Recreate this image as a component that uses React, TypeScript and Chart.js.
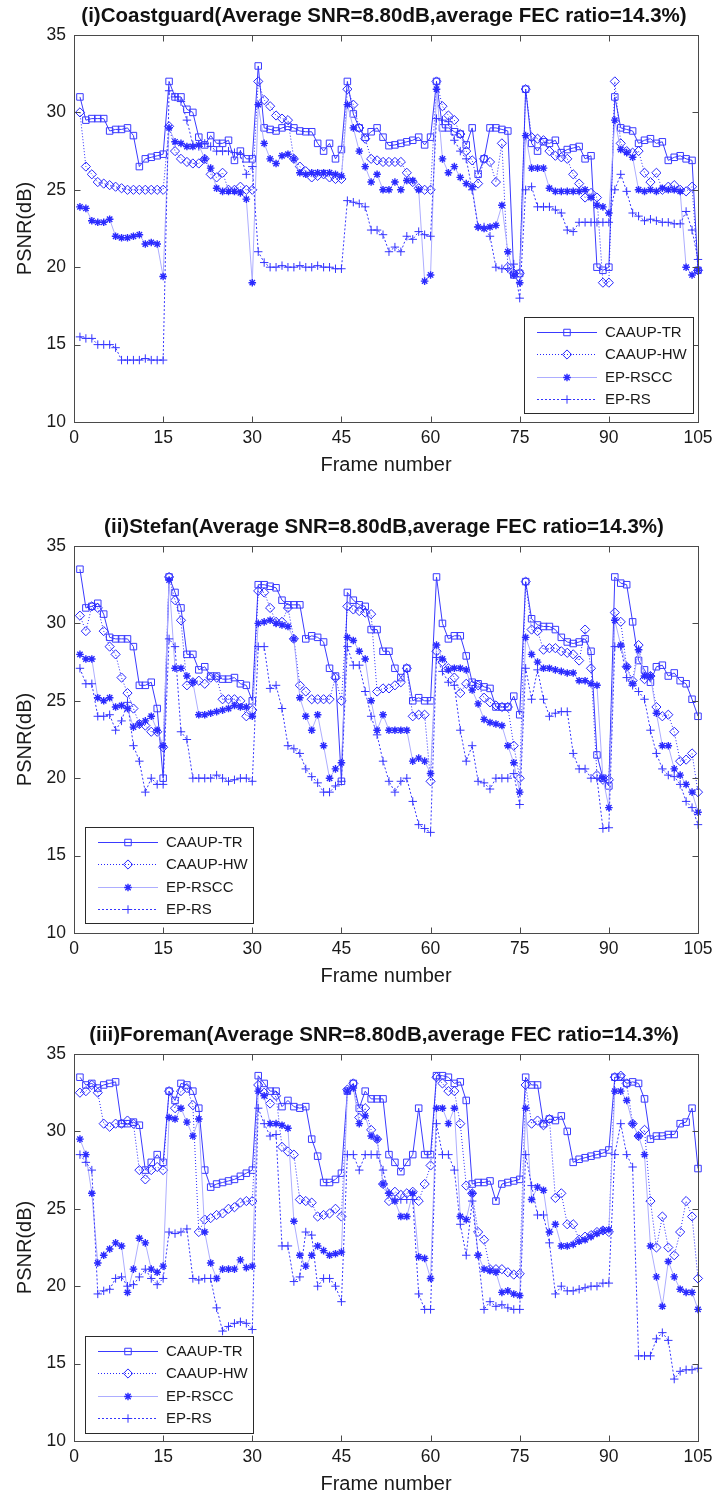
import React, { useEffect, useRef } from 'react';
import { Chart, registerables } from 'chart.js';

Chart.register(...registerables);

const FONT = '"Liberation Sans", Arial, Helvetica, sans-serif';
Chart.defaults.font.family = FONT;

// ---------- data ----------
const FRAMES = Array.from({ length: 105 }, (_, i) => i + 1);
const X_TICKS = [0, 15, 30, 45, 60, 75, 90, 105];
const Y_TICKS = [10, 15, 20, 25, 30, 35];
const SERIES_NAMES = ['CAAUP-TR', 'CAAUP-HW', 'EP-RSCC', 'EP-RS'];
const TITLES = [
  '(i)Coastguard(Average SNR=8.80dB,average FEC ratio=14.3%)',
  '(ii)Stefan(Average SNR=8.80dB,average FEC ratio=14.3%)',
  '(iii)Foreman(Average SNR=8.80dB,average FEC ratio=14.3%)',
];
const X_LABEL = 'Frame number';
const Y_LABEL = 'PSNR(dB)';

// (i) Coastguard
const COAST_TR = [
  31.0, 29.5, 29.6, 29.6, 29.6, 28.8, 28.9, 28.9, 29.0, 28.5, 26.5, 27.0, 27.1, 27.2, 27.3,
  32.0, 31.0, 31.0, 30.2, 30.0, 28.4, 27.9, 28.5, 28.0, 28.0, 28.2, 26.9, 27.5, 27.0, 27.0,
  33.0, 29.0, 28.9, 28.8, 29.0, 29.1, 29.0, 28.8, 28.75, 28.75, 28.0, 27.5, 28.0, 27.0, 27.6,
  32.0, 29.9, 29.0, 28.4, 28.75, 29.0, 28.4, 27.85, 27.9, 28.0, 28.1, 28.2, 28.4, 27.9, 28.4,
  32.0, 29.0, 29.0, 28.75, 28.6, 27.9, 29.0, 26.0, 27.0, 29.0, 29.0, 28.9, 28.8, 19.5, 19.6,
  31.5, 28.0, 27.5, 28.1, 28.0, 28.2, 27.4, 27.6, 27.7, 27.8, 27.0, 27.2, 20.0, 19.8, 20.0,
  31.0, 29.0, 28.9, 28.8, 28.0, 28.2, 28.3, 28.0, 28.1, 26.9, 27.1, 27.2, 27.0, 26.9, 19.8,
];
const COAST_HW = [
  30.0, 26.5, 26.0, 25.5, 25.4, 25.3, 25.2, 25.1, 25.0, 25.0, 25.0, 25.0, 25.0, 25.0, 25.0,
  29.1, 27.5, 27.0, 26.8, 26.7, 26.7, 27.0, 26.0, 25.8, 26.1, 25.0, 25.0, 25.2, 25.0, 25.0,
  32.0, 30.8, 30.4, 29.8, 29.6, 29.5, 27.0, 26.5, 26.2, 25.8, 25.9, 26.0, 25.8, 25.7, 25.7,
  31.5, 30.5, 29.0, 28.3, 27.0, 26.9, 26.8, 26.8, 26.8, 26.8, 26.1, 25.5, 25.1, 25.0, 25.0,
  32.0, 30.4, 29.8, 29.5, 28.6, 27.5, 26.9, 25.4, 27.0, 26.8, 25.5, 28.0, 20.0, 19.6, 19.6,
  31.5, 28.4, 28.3, 28.2, 27.5, 27.2, 27.1, 27.0, 26.0, 25.4, 24.5, 24.8, 24.5, 19.0, 19.0,
  32.0, 28.0, 27.5, 27.4, 27.5, 26.1, 25.5, 26.1, 25.0, 25.2, 25.3, 25.0, 24.9, 25.2, 19.8,
];
const COAST_RSCC = [
  23.9, 23.8, 23.0, 22.9, 22.9, 23.1, 22.0, 21.9, 21.9, 22.0, 22.1, 21.5, 21.6, 21.5, 19.4,
  29.0, 28.1, 28.0, 27.8, 27.8, 27.9, 27.0, 26.4, 25.1, 24.9, 24.9, 24.9, 24.8, 24.4, 19.0,
  30.5, 28.0, 27.0, 26.7, 27.2, 27.3, 27.0, 26.1, 26.0, 26.1, 26.1, 26.1, 26.1, 26.0, 25.9,
  30.5, 29.0, 27.5, 26.5, 25.5, 26.0, 25.0, 25.0, 25.5, 25.0, 25.6, 25.6, 25.0, 19.1, 19.5,
  31.5, 27.0, 26.1, 26.5, 25.8, 25.4, 25.2, 22.6, 22.5, 22.6, 22.7, 24.0, 21.0, 19.5, 19.0,
  28.5, 26.4, 26.4, 26.4, 25.1, 24.9, 24.9, 24.9, 24.9, 24.9, 25.0, 24.5, 24.0, 23.9, 23.5,
  29.5, 27.6, 27.4, 27.1, 25.0, 24.9, 25.0, 24.9, 25.1, 25.0, 25.0, 24.9, 20.0, 19.5, 19.8,
];
const COAST_RS = [
  15.5, 15.4, 15.4, 15.0, 15.0, 15.0, 14.8, 14.0, 14.0, 14.0, 14.0, 14.1, 14.0, 14.0, 14.0,
  31.4, 31.0, 30.7, 29.5, 27.9, 27.8, 28.0, 27.8, 27.5, 27.5, 27.5, 27.4, 27.3, 26.0, 26.5,
  21.0, 20.3, 20.0, 20.0, 20.1, 20.0, 20.0, 20.1, 20.0, 20.0, 20.1, 20.0, 20.0, 19.9, 19.9,
  24.3, 24.2, 24.1, 23.9, 22.4, 22.4, 22.1, 21.0, 21.3, 21.0, 22.0, 21.8, 22.3, 22.1, 22.0,
  29.6, 29.5, 29.4, 28.2, 27.5, 27.0, 25.0, 22.6, 22.6, 22.0, 20.0, 19.9, 19.9, 20.2, 18.0,
  25.0, 25.2, 23.9, 23.9, 23.9, 23.7, 23.5, 22.4, 22.3, 22.9, 22.9, 22.9, 22.9, 22.9, 22.9,
  25.0, 26.0, 24.9, 23.5, 23.3, 23.0, 23.1, 23.0, 22.9, 22.9, 22.8, 22.8, 23.6, 22.4, 20.5,
];

// (ii) Stefan
const STEFAN_TR = [
  33.5, 31.0, 31.1, 31.3, 30.6, 29.1, 29.0, 29.0, 29.0, 28.5, 26.0, 26.0, 26.2, 24.5, 20.0,
  33.0, 32.0, 31.0, 28.0, 28.0, 27.0, 27.2, 26.6, 26.6, 26.4, 26.4, 26.5, 26.1, 26.0, 25.0,
  32.5, 32.5, 32.4, 32.3, 31.5, 31.2, 31.2, 31.2, 29.0, 29.2, 29.1, 28.8, 27.1, 26.6, 19.8,
  32.0, 31.5, 31.2, 31.1, 29.6, 29.6, 28.2, 28.2, 27.1, 26.5, 27.1, 25.0, 25.2, 25.0, 25.0,
  33.0, 30.0, 29.0, 29.2, 29.2, 27.9, 26.2, 26.1, 25.9, 25.8, 24.6, 24.6, 24.6, 25.3, 24.1,
  32.7, 30.3, 29.9, 29.8, 29.8, 29.6, 29.1, 28.8, 28.7, 28.8, 29.0, 28.2, 21.5, 20.0, 19.5,
  33.0, 32.6, 32.5, 30.1, 27.6, 27.0, 26.2, 27.2, 27.3, 26.6, 26.8, 26.3, 26.1, 25.1, 24.0,
];
const STEFAN_HW = [
  30.5, 29.5, 31.1, 31.0, 29.5, 28.5, 28.0, 26.5, 25.5, 24.5, 23.5, 23.4, 23.0, 23.0, 22.0,
  33.0, 31.5, 30.2, 26.0, 26.2, 26.3, 26.1, 26.5, 26.5, 25.1, 25.1, 25.1, 25.0, 24.0, 24.4,
  32.1, 32.0, 31.0, 30.1, 30.1, 31.0, 29.0, 26.0, 25.6, 25.1, 25.1, 25.1, 25.1, 26.5, 25.0,
  31.1, 30.9, 30.8, 30.7, 30.6, 25.6, 25.8, 25.8, 26.0, 26.2, 27.1, 24.0, 24.1, 24.1, 19.8,
  28.2, 27.5, 27.1, 26.5, 25.5, 26.1, 26.0, 26.0, 25.2, 24.9, 24.7, 24.6, 24.6, 22.1, 20.0,
  32.7, 29.6, 29.5, 28.3, 28.4, 28.4, 28.2, 28.1, 28.0, 27.6, 29.6, 27.1, 20.2, 19.9, 19.9,
  30.7, 30.1, 27.2, 26.3, 28.6, 26.4, 26.6, 24.6, 24.0, 24.1, 23.0, 21.1, 21.2, 21.6, 19.1,
];
const STEFAN_RSCC = [
  28.0, 27.7, 27.7, 25.2, 25.0, 25.2, 24.6, 24.7, 24.5, 23.3, 23.5, 23.7, 24.0, 23.1, 22.1,
  32.8, 27.1, 27.1, 26.6, 26.2, 24.1, 24.1, 24.2, 24.3, 24.4, 24.5, 24.7, 24.6, 24.6, 24.0,
  30.0, 30.1, 30.2, 30.0, 29.9, 29.8, 29.0, 25.2, 24.0, 23.1, 24.1, 22.1, 20.0, 20.6, 21.0,
  29.1, 28.9, 28.2, 27.7, 25.0, 23.1, 24.1, 23.1, 23.1, 23.1, 23.1, 21.1, 21.3, 21.1, 20.3,
  28.6, 27.7, 27.0, 27.1, 27.1, 27.0, 25.7, 24.8, 23.8, 23.6, 23.5, 23.4, 22.1, 21.0, 19.1,
  29.1, 28.0, 27.5, 27.1, 27.1, 27.0, 26.9, 26.8, 26.8, 26.3, 26.3, 26.1, 26.0, 20.0, 18.1,
  30.2, 28.6, 27.2, 26.1, 28.3, 26.6, 26.6, 24.2, 22.1, 22.1, 20.6, 20.2, 19.6, 19.1, 17.8,
];
const STEFAN_RS = [
  27.1, 26.1, 26.1, 24.0, 24.0, 24.1, 23.1, 23.7, 24.9, 22.1, 21.1, 19.1, 20.0, 19.6, 19.6,
  29.0, 28.5, 23.0, 22.5, 20.0, 20.0, 20.0, 20.0, 20.2, 20.0, 19.8, 19.9, 20.0, 20.0, 19.8,
  28.5, 28.5, 25.8, 26.0, 24.5, 22.1, 21.9, 21.6, 20.6, 20.1, 19.7, 19.1, 19.1, 19.5, 19.8,
  28.5, 27.3, 27.3, 25.6, 24.0, 22.8, 21.1, 19.8, 19.1, 19.8, 20.0, 18.5, 17.0, 16.75, 16.5,
  27.8, 26.9, 26.2, 26.0, 23.1, 21.1, 22.1, 19.8, 19.7, 19.3, 20.0, 20.0, 20.0, 20.3, 18.3,
  27.1, 25.1, 27.0, 25.1, 24.0, 24.2, 24.3, 24.3, 21.6, 20.6, 20.6, 20.0, 20.0, 16.75, 16.8,
  28.5, 28.5, 26.5, 26.0, 25.6, 25.1, 23.1, 21.6, 20.6, 20.2, 20.1, 19.6, 18.5, 18.1, 17.0,
];

// (iii) Foreman
const FOREMAN_TR = [
  33.5, 33.0, 33.1, 32.8, 33.0, 33.1, 33.2, 30.5, 30.5, 30.6, 30.4, 27.5, 28.0, 28.5, 28.0,
  32.6, 32.0, 33.1, 33.0, 32.6, 31.5, 27.5, 26.4, 26.6, 26.7, 26.8, 26.9, 27.1, 27.3, 27.5,
  33.6, 33.1, 32.6, 32.6, 31.6, 32.0, 31.6, 31.5, 31.6, 29.5, 28.4, 26.7, 26.7, 26.9, 27.3,
  32.6, 33.1, 31.5, 32.6, 32.1, 32.1, 32.1, 28.5, 28.0, 27.4, 28.0, 28.5, 31.5, 28.5, 28.5,
  33.6, 33.6, 33.5, 33.1, 33.2, 32.0, 26.6, 26.7, 26.7, 26.8, 25.5, 26.6, 26.7, 26.8, 26.9,
  33.5, 33.0, 33.0, 30.5, 30.8, 30.7, 31.0, 30.0, 28.0, 28.2, 28.3, 28.4, 28.5, 28.6, 28.8,
  33.5, 33.5, 33.1, 33.2, 33.1, 32.1, 29.5, 29.7, 29.7, 29.8, 29.8, 30.5, 30.6, 31.5, 27.6,
];
const FOREMAN_HW = [
  32.5, 32.6, 33.0, 32.5, 30.5, 30.3, 30.5, 30.5, 30.7, 30.5, 27.5, 26.9, 27.5, 27.7, 27.5,
  32.6, 31.5, 32.6, 32.8, 31.7, 23.5, 24.3, 24.4, 24.6, 24.7, 25.0, 25.1, 25.4, 25.5, 25.5,
  33.0, 32.5, 31.8, 32.3, 29.0, 28.7, 28.5, 25.6, 25.5, 25.4, 24.5, 24.6, 24.7, 25.0, 24.5,
  32.7, 33.1, 30.9, 31.5, 30.1, 29.5, 26.6, 25.5, 26.1, 25.9, 26.0, 26.1, 25.5, 26.6, 27.8,
  33.5, 33.1, 32.6, 32.6, 30.5, 26.5, 26.0, 23.5, 23.0, 21.1, 21.1, 21.1, 20.9, 20.75, 20.8,
  33.0, 30.5, 30.7, 30.4, 30.8, 25.7, 26.0, 24.0, 24.0, 23.0, 23.2, 23.3, 23.5, 23.6, 23.5,
  33.5, 33.6, 33.1, 30.5, 29.7, 30.1, 25.5, 22.5, 24.5, 22.5, 22.0, 23.5, 25.5, 24.5, 20.5,
];
const FOREMAN_RSCC = [
  29.5, 28.5, 26.0, 21.5, 22.0, 22.4, 22.8, 22.6, 19.6, 21.1, 23.1, 22.8, 21.1, 20.9, 21.3,
  30.9, 30.8, 31.5, 30.6, 29.7, 30.8, 23.5, 21.5, 20.5, 21.1, 21.1, 21.1, 21.7, 21.2, 21.3,
  32.6, 32.3, 30.5, 30.5, 30.4, 30.2, 24.2, 22.0, 21.3, 22.0, 22.6, 22.3, 22.0, 22.1, 22.2,
  32.6, 32.8, 30.5, 31.0, 29.7, 29.5, 26.6, 26.0, 25.5, 24.5, 24.5, 26.0, 21.9, 21.8, 20.5,
  31.5, 31.5, 30.5, 31.5, 24.5, 24.3, 26.0, 22.0, 21.1, 21.0, 20.9, 19.6, 19.7, 19.5, 19.4,
  31.5, 25.6, 26.4, 26.2, 23.5, 24.0, 22.6, 22.6, 22.7, 22.9, 23.0, 23.2, 23.4, 23.6, 23.65,
  32.6, 32.6, 32.0, 30.5, 29.7, 28.5, 22.6, 20.6, 18.7, 21.6, 20.6, 19.8, 19.6, 19.6, 18.5,
];
const FOREMAN_RS = [
  28.5, 28.0, 27.5, 19.5, 19.7, 19.8, 20.5, 20.6, 20.0, 20.1, 20.6, 21.1, 20.5, 20.1, 20.5,
  23.5, 23.4, 23.5, 23.7, 20.5, 20.4, 20.5, 20.5, 18.6, 17.1, 17.4, 17.6, 17.7, 17.6, 17.2,
  31.5, 30.5, 29.7, 29.8, 22.6, 22.6, 20.3, 20.6, 23.5, 23.3, 20.0, 20.5, 20.5, 20.0, 19.0,
  28.5, 28.5, 27.5, 28.5, 28.5, 28.5, 27.5, 26.0, 25.6, 25.6, 25.6, 25.6, 19.5, 18.5, 18.5,
  30.5, 28.5, 28.5, 27.5, 24.0, 22.0, 25.5, 22.0, 18.5, 19.0, 18.7, 18.8, 18.6, 18.5, 18.5,
  28.5, 26.5, 24.6, 24.6, 22.8, 19.5, 20.0, 19.7, 19.7, 19.8, 19.9, 20.0, 20.0, 20.2, 20.2,
  28.5, 30.5, 28.5, 27.7, 15.5, 15.5, 15.5, 16.6, 17.0, 16.5, 14.0, 14.5, 14.6, 14.6, 14.7,
];

const PANEL_SERIES = [
  [COAST_TR, COAST_HW, COAST_RSCC, COAST_RS],
  [STEFAN_TR, STEFAN_HW, STEFAN_RSCC, STEFAN_RS],
  [FOREMAN_TR, FOREMAN_HW, FOREMAN_RSCC, FOREMAN_RS],
];

// ---------- layout & style ----------
const CANVAS_W = 721;
const CANVAS_H = 480;
const PANEL_TOPS = [0, 511, 1019];
const PLOT_TOP = 35;
const PLOT_LEFT = 74;
const PLOT_RIGHT_PAD = 23;
const PLOT_BOTTOM = 422;
const LEGEND_BOXES = [
  { x: 524, y: 317, w: 169, h: 96 },
  { x: 85, y: 316, w: 168, h: 96 },
  { x: 85, y: 317, w: 168, h: 97 },
];
const LEGEND_ROWS = [15, 37, 60, 82];

const STYLES = [
  { line: '#3a3aff', dash: [] as number[], marker: 'rect', radius: 4.6, mcolor: '#3a3aff', mwidth: 1 },
  { line: '#2626ff', dash: [1, 2], marker: 'rectRot', radius: 4.6, mcolor: '#2626ff', mwidth: 1 },
  { line: '#adadff', dash: [] as number[], marker: 'star', radius: 3.8, mcolor: '#2b2bff', mwidth: 1.4 },
  { line: '#3535ff', dash: [2, 2], marker: 'cross', radius: 4.2, mcolor: '#3535ff', mwidth: 1 },
];

function drawMarker(ctx: CanvasRenderingContext2D, kind: string, x: number, y: number, r: number) {
  ctx.beginPath();
  if (kind === 'rect') {
    const s = r * Math.SQRT1_2;
    ctx.rect(x - s, y - s, 2 * s, 2 * s);
  } else if (kind === 'rectRot') {
    ctx.moveTo(x, y - r);
    ctx.lineTo(x + r, y);
    ctx.lineTo(x, y + r);
    ctx.lineTo(x - r, y);
    ctx.closePath();
  } else if (kind === 'star') {
    ctx.moveTo(x - r, y); ctx.lineTo(x + r, y);
    ctx.moveTo(x, y - r); ctx.lineTo(x, y + r);
    const d = r * Math.SQRT1_2;
    ctx.moveTo(x - d, y - d); ctx.lineTo(x + d, y + d);
    ctx.moveTo(x - d, y + d); ctx.lineTo(x + d, y - d);
  } else {
    ctx.moveTo(x - r, y); ctx.lineTo(x + r, y);
    ctx.moveTo(x, y - r); ctx.lineTo(x, y + r);
  }
  ctx.stroke();
}

function framePlugin(idx: number) {
  return {
    id: 'matlabFrame' + idx,
    afterDraw(chart: any) {
      const { ctx, chartArea: a } = chart;
      const xs = chart.scales.x;
      const ys = chart.scales.y;
      ctx.save();
      ctx.setLineDash([]);
      ctx.strokeStyle = '#4a4a4a';
      ctx.lineWidth = 1;
      const L = Math.round(a.left) + 0.5, T = Math.round(a.top) + 0.5;
      const R = Math.round(a.right) + 0.5, B = Math.round(a.bottom) + 0.5;
      ctx.strokeRect(L, T, R - L, B - T);
      ctx.beginPath();
      X_TICKS.forEach((v) => {
        const px = Math.round(xs.getPixelForValue(v)) + 0.5;
        ctx.moveTo(px, B); ctx.lineTo(px, B - 6);
        ctx.moveTo(px, T); ctx.lineTo(px, T + 6);
      });
      Y_TICKS.forEach((v) => {
        const py = Math.round(ys.getPixelForValue(v)) + 0.5;
        ctx.moveTo(L, py); ctx.lineTo(L + 6, py);
        ctx.moveTo(R, py); ctx.lineTo(R - 6, py);
      });
      ctx.stroke();

      // title
      const cx = (a.left + a.right) / 2;
      ctx.fillStyle = '#111';
      ctx.textAlign = 'center';
      ctx.textBaseline = 'middle';
      ctx.font = 'bold 20.5px ' + FONT;
      ctx.fillText(TITLES[idx], cx - 2, 16);

      // axis labels
      ctx.font = '20px ' + FONT;
      ctx.fillStyle = '#1a1a1a';
      ctx.fillText(X_LABEL, cx, 465);
      ctx.save();
      ctx.translate(25, (a.top + a.bottom) / 2);
      ctx.rotate(-Math.PI / 2);
      ctx.fillText(Y_LABEL, 0, 0);
      ctx.restore();

      // legend
      const lb = LEGEND_BOXES[idx];
      ctx.fillStyle = '#ffffff';
      ctx.fillRect(lb.x, lb.y, lb.w, lb.h);
      ctx.strokeStyle = '#2a2a2a';
      ctx.lineWidth = 1;
      ctx.strokeRect(lb.x + 0.5, lb.y + 0.5, lb.w, lb.h);
      SERIES_NAMES.forEach((name, k) => {
        const st = STYLES[k];
        const y = lb.y + LEGEND_ROWS[k] + 0.5;
        ctx.strokeStyle = st.line;
        ctx.lineWidth = 1;
        ctx.setLineDash(st.dash);
        ctx.beginPath();
        ctx.moveTo(lb.x + 13, y);
        ctx.lineTo(lb.x + 73, y);
        ctx.stroke();
        ctx.setLineDash([]);
        ctx.strokeStyle = st.mcolor;
        ctx.lineWidth = st.mwidth;
        drawMarker(ctx, st.marker, lb.x + 43, y, st.radius);
        ctx.fillStyle = '#1a1a1a';
        ctx.font = '15px ' + FONT;
        ctx.textAlign = 'left';
        ctx.textBaseline = 'middle';
        ctx.fillText(name, lb.x + 81, y);
      });
      ctx.restore();
    },
  };
}

function makeConfig(idx: number): any {
  const series = PANEL_SERIES[idx];
  return {
    type: 'line',
    data: {
      datasets: series.map((vals, k) => ({
        label: SERIES_NAMES[k],
        data: vals.map((v, i) => ({ x: FRAMES[i], y: v })),
        borderColor: STYLES[k].line,
        borderWidth: 1,
        borderDash: STYLES[k].dash,
        pointStyle: STYLES[k].marker,
        pointRadius: STYLES[k].radius,
        pointBorderColor: STYLES[k].mcolor,
        pointBorderWidth: STYLES[k].mwidth,
        pointBackgroundColor: 'rgba(0,0,0,0)',
        fill: false,
        tension: 0,
        clip: false,
        order: 3 - k,
      })),
    },
    options: {
      animation: false,
      responsive: false,
      events: [],
      layout: { padding: { top: PLOT_TOP, right: PLOT_RIGHT_PAD, left: 0, bottom: 0 } },
      plugins: {
        legend: { display: false },
        tooltip: { enabled: false },
        title: { display: false },
      },
      scales: {
        x: {
          type: 'linear',
          min: 0,
          max: 105,
          grid: { display: false, drawTicks: false },
          border: { display: false },
          afterBuildTicks: (s: any) => { s.ticks = X_TICKS.map((v) => ({ value: v })); },
          afterFit: (s: any) => { s.height = CANVAS_H - PLOT_BOTTOM; },
          ticks: {
            autoSkip: false,
            maxRotation: 0,
            padding: 6,
            color: '#1a1a1a',
            font: { size: 17.5, family: FONT },
          },
        },
        y: {
          type: 'linear',
          min: 10,
          max: 35,
          grid: { display: false, drawTicks: false },
          border: { display: false },
          afterBuildTicks: (s: any) => { s.ticks = Y_TICKS.map((v) => ({ value: v })); },
          afterFit: (s: any) => { s.width = PLOT_LEFT; },
          ticks: {
            padding: 8,
            color: '#1a1a1a',
            font: { size: 17.5, family: FONT },
          },
        },
      },
    },
    plugins: [framePlugin(idx)],
  };
}

function Panel({ idx }: { idx: number }) {
  const ref = useRef<HTMLCanvasElement>(null);
  useEffect(() => {
    if (!ref.current) return;
    const chart = new Chart(ref.current, makeConfig(idx));
    return () => chart.destroy();
  }, [idx]);
  return (
    <canvas
      ref={ref}
      width={CANVAS_W}
      height={CANVAS_H}
      style={{ position: 'absolute', left: 0, top: PANEL_TOPS[idx], width: CANVAS_W, height: CANVAS_H }}
    />
  );
}

export default function App() {
  return (
    <div style={{ position: 'absolute', left: 0, top: 0, width: CANVAS_W, height: 1499, background: '#ffffff', overflow: 'hidden' }}>
      {[0, 1, 2].map((i) => (
        <Panel key={i} idx={i} />
      ))}
    </div>
  );
}
